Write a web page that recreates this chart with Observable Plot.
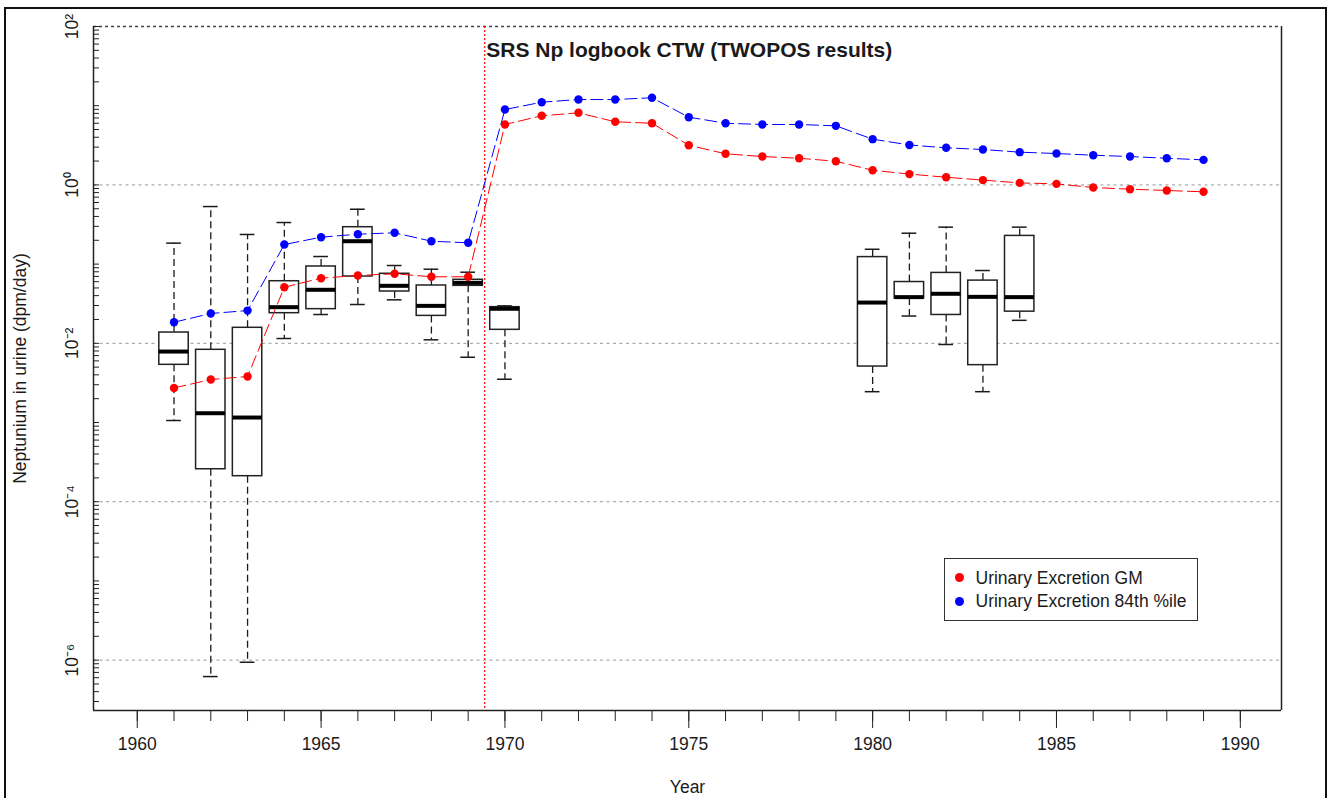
<!DOCTYPE html>
<html><head><meta charset="utf-8">
<script src="https://cdn.jsdelivr.net/npm/d3@7"></script>
<script src="https://cdn.jsdelivr.net/npm/@observablehq/plot@0.6"></script>
<style>
html,body{margin:0;padding:0;background:#fff;overflow:hidden;}
#wrap{position:relative;width:1328px;height:798px;font-family:"Liberation Sans",Arial,sans-serif;}
#outer{position:absolute;left:4px;top:7px;width:1323px;height:830px;border:2px solid #111;box-sizing:border-box;pointer-events:none;}
.legend{position:absolute;left:944px;top:558px;width:254px;height:63px;border:1.5px solid #333;box-sizing:border-box;background:#fff;}
.legend .dot{position:absolute;width:9px;height:9px;border-radius:50%;}
.legend .lab{position:absolute;font-size:17.5px;line-height:20px;color:#1a1a1a;white-space:nowrap;}
</style></head><body>
<div id="wrap"><div id="chart"></div><div id="outer"></div><div class="legend" id="legend"></div></div>
<script>
// ---- data ----
const years = [1961,1962,1963,1964,1965,1966,1967,1968,1969,1970,1971,1972,1973,1974,1975,1976,1977,1978,1979,1980,1981,1982,1983,1984,1985,1986,1987,1988,1989];
const gmValues = [0.00273,0.00349,0.00381,0.0511,0.0664,0.0718,0.0755,0.0692,0.0692,5.79,7.46,8.13,6.26,6.01,3.17,2.47,2.28,2.17,1.99,1.53,1.37,1.25,1.15,1.06,1.03,0.927,0.883,0.850,0.818];
const p84Values = [0.01846,0.0238,0.0259,0.1767,0.2187,0.2386,0.2484,0.1946,0.1858,8.95,11.07,11.97,11.97,12.59,7.16,6.01,5.79,5.79,5.57,3.78,3.19,2.94,2.80,2.59,2.49,2.37,2.28,2.17,2.07];

const boxYears = [1961,1962,1963,1964,1965,1966,1967,1968,1969,1970,1980,1981,1982,1983,1984];
const boxLow  = [0.00106,6.2e-7,9.4e-7,0.0115,0.0231,0.0309,0.0354,0.01107,0.00667,0.00352,0.00245,0.0221,0.00966,0.00245,0.0195];
const boxQ1   = [0.00535,0.000257,0.00021,0.024,0.0270,0.0697,0.0451,0.0222,0.0532,0.0148,0.00509,0.0368,0.0228,0.0053,0.0251];
const boxMed  = [0.00787,0.00131,0.001156,0.0286,0.0474,0.1946,0.0532,0.0297,0.058,0.0273,0.0327,0.0383,0.0422,0.0386,0.0383];
const boxQ3   = [0.01368,0.00828,0.0157,0.0608,0.0933,0.2924,0.0755,0.0537,0.0634,0.0286,0.1226,0.0594,0.0774,0.0619,0.227];
const boxHigh = [0.184,0.533,0.2366,0.335,0.1247,0.493,0.096,0.0862,0.079,0.0297,0.154,0.2455,0.293,0.083,0.293];

const cutoverYear = 1969.45;
const titleText = "SRS Np logbook CTW (TWOPOS results)";
const titleY = 50;
const seriesNames = ["Urinary Excretion GM", "Urinary Excretion 84th %ile"];
const seriesColors = ["#ff0000", "#0000ff"];

const xTickYears = [1960,1961,1962,1963,1964,1965,1966,1967,1968,1969,1970,1971,1972,1973,1974,1975,1976,1977,1978,1979,1980,1981,1982,1983,1984,1985,1986,1987,1988,1989,1990];
const xLabelYears = [1960,1965,1970,1975,1980,1985,1990];
const yLabelValues = [1e-6,1e-4,1e-2,1e0,1e2];
const yTickLabels = ["10\u207B\u2076","10\u207B\u2074","10\u207B\u00B2","10\u2070","10\u00B2"];
const gridLevels = [1e-6,1e-4,1e-2,1e0];
const topLevel = [1e2];

const xDomain = [1958.81, 1991.12];
const yDomain = [2.312e-7, 100];

// minor log ticks 1..9 x 10^k inside domain
const yMinorTicks = [];
for (let k = -7; k <= 2; k++) for (let m = 1; m <= 9; m++) {
  const v = m * Math.pow(10, k);
  if (v >= yDomain[0] && v <= yDomain[1] * 1.0001) yMinorTicks.push(v);
}

// ---- tables ----
const gm = years.map((year, i) => ({year, value: gmValues[i]}));
const p84 = years.map((year, i) => ({year, value: p84Values[i]}));
const boxes = boxYears.map((year, i) => ({year, low: boxLow[i], q1: boxQ1[i], med: boxMed[i], q3: boxQ3[i], high: boxHigh[i]}));

const W = 1328, H = 798, mL = 93, mR = 47, mT = 26, mB = 88;
const boxHalf = 0.4, capHalf = 0.2;
const ink = "#1a1a1a";

const chart = Plot.plot({
  width: W, height: H,
  marginLeft: mL, marginRight: mR, marginTop: mT, marginBottom: mB,
  style: {fontFamily: '"Liberation Sans", Arial, sans-serif', fontSize: "17.5px", background: "transparent", color: ink, overflow: "visible"},
  x: {domain: xDomain},
  y: {type: "log", domain: yDomain, axis: null},
  marks: [
    Plot.ruleY(gridLevels, {stroke: "#999", strokeDasharray: "3,3.5", strokeWidth: 1}),
    Plot.ruleY(topLevel, {stroke: "#444", strokeDasharray: "3,3", strokeWidth: 1.5}),
    Plot.ruleX([cutoverYear], {stroke: "#ff0000", strokeDasharray: "2,2", strokeWidth: 1.2}),
    // whiskers
    Plot.ruleX(boxes, {x: "year", y1: "q3", y2: "high", stroke: ink, strokeWidth: 1.3, strokeDasharray: "7,4"}),
    Plot.ruleX(boxes, {x: "year", y1: "q1", y2: "low", stroke: ink, strokeWidth: 1.3, strokeDasharray: "7,4"}),
    Plot.ruleY(boxes, {y: "high", x1: d => d.year - capHalf, x2: d => d.year + capHalf, stroke: ink, strokeWidth: 1.5}),
    Plot.ruleY(boxes, {y: "low", x1: d => d.year - capHalf, x2: d => d.year + capHalf, stroke: ink, strokeWidth: 1.5}),
    // boxes
    Plot.rect(boxes, {x1: d => d.year - boxHalf, x2: d => d.year + boxHalf, y1: "q1", y2: "q3", fill: "white", stroke: "#222", strokeWidth: 1.5}),
    Plot.ruleY(boxes, {y: "med", x1: d => d.year - boxHalf, x2: d => d.year + boxHalf, stroke: "black", strokeWidth: 4}),
    // series
    Plot.line(gm, {x: "year", y: "value", stroke: seriesColors[0], strokeWidth: 1, strokeDasharray: "12,5"}),
    Plot.line(p84, {x: "year", y: "value", stroke: seriesColors[1], strokeWidth: 1, strokeDasharray: "12,5"}),
    Plot.dot(gm, {x: "year", y: "value", fill: seriesColors[0], r: 4.2}),
    Plot.dot(p84, {x: "year", y: "value", fill: seriesColors[1], r: 4.2}),
    // title
    Plot.text([titleText], {x: cutoverYear, y: titleY, text: d => d, textAnchor: "start", lineAnchor: "middle", fontWeight: "bold", fontSize: 21, dx: 1.5, fill: ink}),
    // frame (left, bottom, right)
    Plot.ruleX(xDomain, {stroke: "#222", strokeWidth: 1.5}),
    Plot.ruleY([yDomain[0]], {stroke: "#222", strokeWidth: 1.5}),
    // y minor ticks (inside)
    Plot.tickY(yMinorTicks, {y: d => d, insetRight: (W - mL - mR) - 6, stroke: "#222", strokeWidth: 1}),
    // y labels
    Plot.text(yLabelValues, {y: d => d, text: (d, i) => yTickLabels[i], frameAnchor: "left", dx: -21, rotate: -90, textAnchor: "middle", lineAnchor: "middle", fontSize: 17.5, fill: ink}),
    Plot.text(["Neptunium in urine (dpm/day)"], {frameAnchor: "left", dx: -73.5, rotate: -90, text: d => d, textAnchor: "middle", lineAnchor: "middle", fontSize: 17.5, fill: ink}),
    // x axis
    Plot.axisX(xTickYears, {tickSize: 11, fill: "none", stroke: "#222", label: null}),
    Plot.axisX(xLabelYears, {tickSize: 18, tickPadding: 9, tickFormat: d => String(d), fontSize: 17.5, stroke: "#222", fill: ink, label: null}),
    Plot.text(["Year"], {frameAnchor: "bottom", dy: 76.7, text: d => d, lineAnchor: "middle", fontSize: 17.5, fill: ink})
  ]
});
document.getElementById("chart").appendChild(chart);

// legend
const legend = document.getElementById("legend");
const rowsY = [20.3, 43.7];
seriesNames.forEach((name, i) => {
  const dot = document.createElement("div");
  dot.className = "dot";
  dot.style.background = seriesColors[i];
  dot.style.left = (16 - 1.5 - 4.5) + "px";
  dot.style.top = (rowsY[i] - 1.5 - 4.5) + "px";
  legend.appendChild(dot);
  const lab = document.createElement("div");
  lab.className = "lab";
  lab.textContent = name;
  lab.style.left = (32 - 1.5) + "px";
  lab.style.top = (rowsY[i] - 1.5 - 10) + "px";
  legend.appendChild(lab);
});
</script>
</body></html>
